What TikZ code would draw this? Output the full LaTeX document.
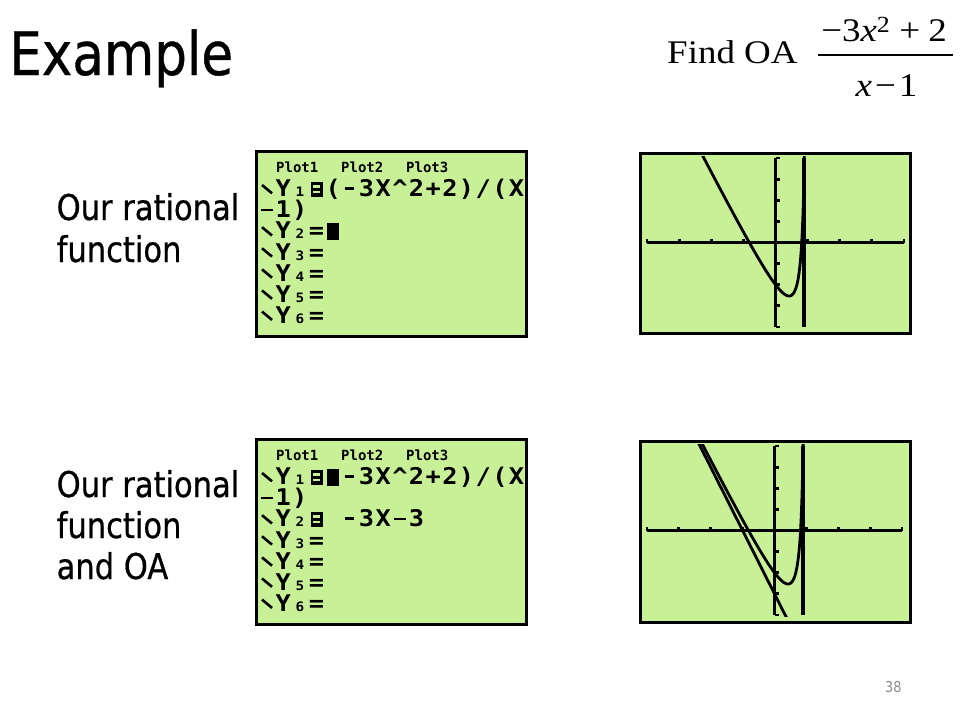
\documentclass[tikz,border=0pt]{standalone}
\usepackage{fontspec}
\newfontfamily\tah{DejaVu Sans}[FakeStretch=0.86,FakeBold=0.6]
\newfontfamily\tahl{DejaVu Sans}[FakeStretch=0.86]
\newfontfamily\tnr{Liberation Serif}[FakeStretch=1.12]
\newfontfamily\tifont{DejaVu Sans Mono}[FakeStretch=1.1]
\newfontfamily\tifontsm{DejaVu Sans Mono}
\definecolor{scr}{RGB}{200,240,150}
\definecolor{pgnum}{RGB}{140,140,140}
\newlength\tiw \setlength\tiw{16.67pt}
\newcommand\tc[1]{\makebox[\tiw][c]{#1}}
\newcommand\tisub[1]{{\fontsize{13}{13}\selectfont #1}}
\newcommand\tieq{\makebox[12pt][l]{\rule{12pt}{15pt}\hspace{-9.3pt}\textcolor{scr}{\rule[3.5pt]{6.6pt}{2.3pt}}\hspace{-6.6pt}\textcolor{scr}{\rule[9.2pt]{6.6pt}{2.3pt}}}}
\newcommand\tiblk{\rule[-1.5pt]{12.5pt}{17.5pt}}
\newcommand\tineg{\rule[7pt]{9pt}{2.6pt}}
\newcommand\timinus{\rule[6.5pt]{12pt}{2.6pt}}
\tikzset{
  scrframe/.style={draw=black, line width=3pt, fill=scr},
  tirow/.style={anchor=base west, inner sep=0pt, font=\tifont\bfseries\fontsize{23}{23}\selectfont},
  tiplot/.style={anchor=base west, inner sep=0pt, font=\tifontsm\bfseries\fontsize{14}{14}\selectfont},
  tislash/.style={line width=2.6pt},
  axisline/.style={line width=2.7pt},
  tickmark/.style={line width=2.7pt},
  curve/.style={line width=2.8pt, line join=round},
  asym/.style={line width=4pt},
  lbl/.style={anchor=base west, inner sep=0pt, font=\tah\fontsize{35.5}{35.5}\selectfont},
  eqtxt/.style={inner sep=0pt, font=\tnr\fontsize{33}{33}\selectfont},
}
\newcommand\tiscreen[4]{%
\begin{scope}[yshift=-#1pt]
  \draw[scrframe] (256.5,1.5) rectangle (526.5,186.5);
  \node[tiplot] (#2p1) at (276,22) {Plot1};
  \node[tiplot] (#2p2) at (341,22) {Plot2};
  \node[tiplot] (#2p3) at (406,22) {Plot3};
  \node[tirow] (#2r1) at (258,46.7) {#3};
  \node[tirow] (#2r2) at (258,67.8) {\tc{\timinus}\tc{1}\tc{)}};
  \node[tirow] (#2r3) at (258,88.9) {#4};
  \node[tirow] (#2r4) at (258,110) {\tc{}\tc{Y}\tc{\tisub3}\tc{=}};
  \node[tirow] (#2r5) at (258,131.1) {\tc{}\tc{Y}\tc{\tisub4}\tc{=}};
  \node[tirow] (#2r6) at (258,152.2) {\tc{}\tc{Y}\tc{\tisub5}\tc{=}};
  \node[tirow] (#2r7) at (258,173.3) {\tc{}\tc{Y}\tc{\tisub6}\tc{=}};
  \foreach \b in {46.7,88.9,110,131.1,152.2,173.3}
    \draw[tislash] (262,\b-11.7) -- (272,\b-3.4);
\end{scope}}
\begin{document}
\begin{tikzpicture}[x=1pt,y=-1pt]
\useasboundingbox (0,0) rectangle (960,720);
\fill[white] (0,0) rectangle (960,720);

% title and formula
\node[anchor=base west, inner sep=0pt, font=\tah\fontsize{60}{60}\selectfont] (title) at (9,75) {Example};
\node[eqtxt, anchor=base west] (find) at (667,63.3) {Find OA};
\node[eqtxt, anchor=base] (num) at (884,41.7) {−3\textit{x}\textsuperscript{2}\hspace{9pt}+\hspace{8pt}2};
\node[eqtxt, anchor=base] (den) at (886.5,96.7) {\textit{x}\hspace{3pt}−\hspace{3pt}1};
\coordinate (barL) at (818,55);
\coordinate (barR) at (953,55);
\draw[line width=1.8pt] (barL) -- (barR);

% left labels
\node[lbl] (a1) at (56.5,220) {Our rational};
\node[lbl] (a2) at (56.5,262) {function};
\node[lbl] (b1) at (56.5,497) {Our rational};
\node[lbl] (b2) at (56.5,538) {function};
\node[lbl] (b3) at (56.5,579) {and OA};

% calculator Y= screens
\tiscreen{150}{t}%
 {\tc{}\tc{Y}\tc{\tisub1}\tc{\tieq}\tc{(}\tc{\tineg}\tc{3}\tc{X}\tc{\textasciicircum}\tc{2}\tc{+}\tc{2}\tc{)}\tc{/}\tc{(}\tc{X}}%
 {\tc{}\tc{Y}\tc{\tisub2}\tc{=}\tc{\tiblk}}
\tiscreen{438}{b}%
 {\tc{}\tc{Y}\tc{\tisub1}\tc{\tieq}\tc{\tiblk}\tc{\tineg}\tc{3}\tc{X}\tc{\textasciicircum}\tc{2}\tc{+}\tc{2}\tc{)}\tc{/}\tc{(}\tc{X}}%
 {\tc{}\tc{Y}\tc{\tisub2}\tc{\tieq}\tc{}\tc{\tineg}\tc{3}\tc{X}\tc{\timinus}\tc{3}}

% top graph
\draw[scrframe] (640.5,153.5) rectangle (910.5,333.5);
\begin{scope}[shift={(775.5pt,-242.5pt)}, x=32.1pt, y=21.1pt]
  \draw[axisline] (-4,0) -- (4,0);
  \draw[axisline] (0,-4) -- (0,4);
  \foreach \k in {-4,-3,-2,-1,1,2,3,4} {
    \draw[tickmark] (\k,0) -- ++(0pt,4pt);
    \draw[tickmark] (0,\k) -- ++(4pt,0pt);
  }
  \clip (-4.1,-4.07) rectangle (4.1,4.07);
  \draw[curve] plot[domain=-2.4:0.9, samples=160] (\x,{(-3*\x*\x+2)/(\x-1)});
  \draw[asym] (0.88,-4) -- (0.88,4);
\end{scope}

% bottom graph
\draw[scrframe] (640.5,441.5) rectangle (910.5,622.5);
\begin{scope}[shift={(774.5pt,-530.5pt)}, x=31.9pt, y=21.1pt]
  \draw[axisline] (-4,0) -- (4,0);
  \draw[axisline] (0,-4) -- (0,4);
  \foreach \k in {-4,-3,-2,-1,1,2,3,4} {
    \draw[tickmark] (\k,0) -- ++(0pt,4pt);
    \draw[tickmark] (0,\k) -- ++(4pt,0pt);
  }
  \clip (-4.1,-4.07) rectangle (4.1,4.07);
  \draw[curve] plot[domain=-2.4:0.9, samples=160] (\x,{(-3*\x*\x+2)/(\x-1)});
  \draw[curve] plot[domain=-2.5:0.5, samples=2] (\x,{-3*\x-3});
  \draw[asym] (0.88,-4) -- (0.88,4);
\end{scope}

% page number
\node[anchor=base west, inner sep=0pt, font=\tahl\fontsize{15}{15}\selectfont, text=pgnum] (pg) at (885,692) {38};
\end{tikzpicture}
\end{document}
